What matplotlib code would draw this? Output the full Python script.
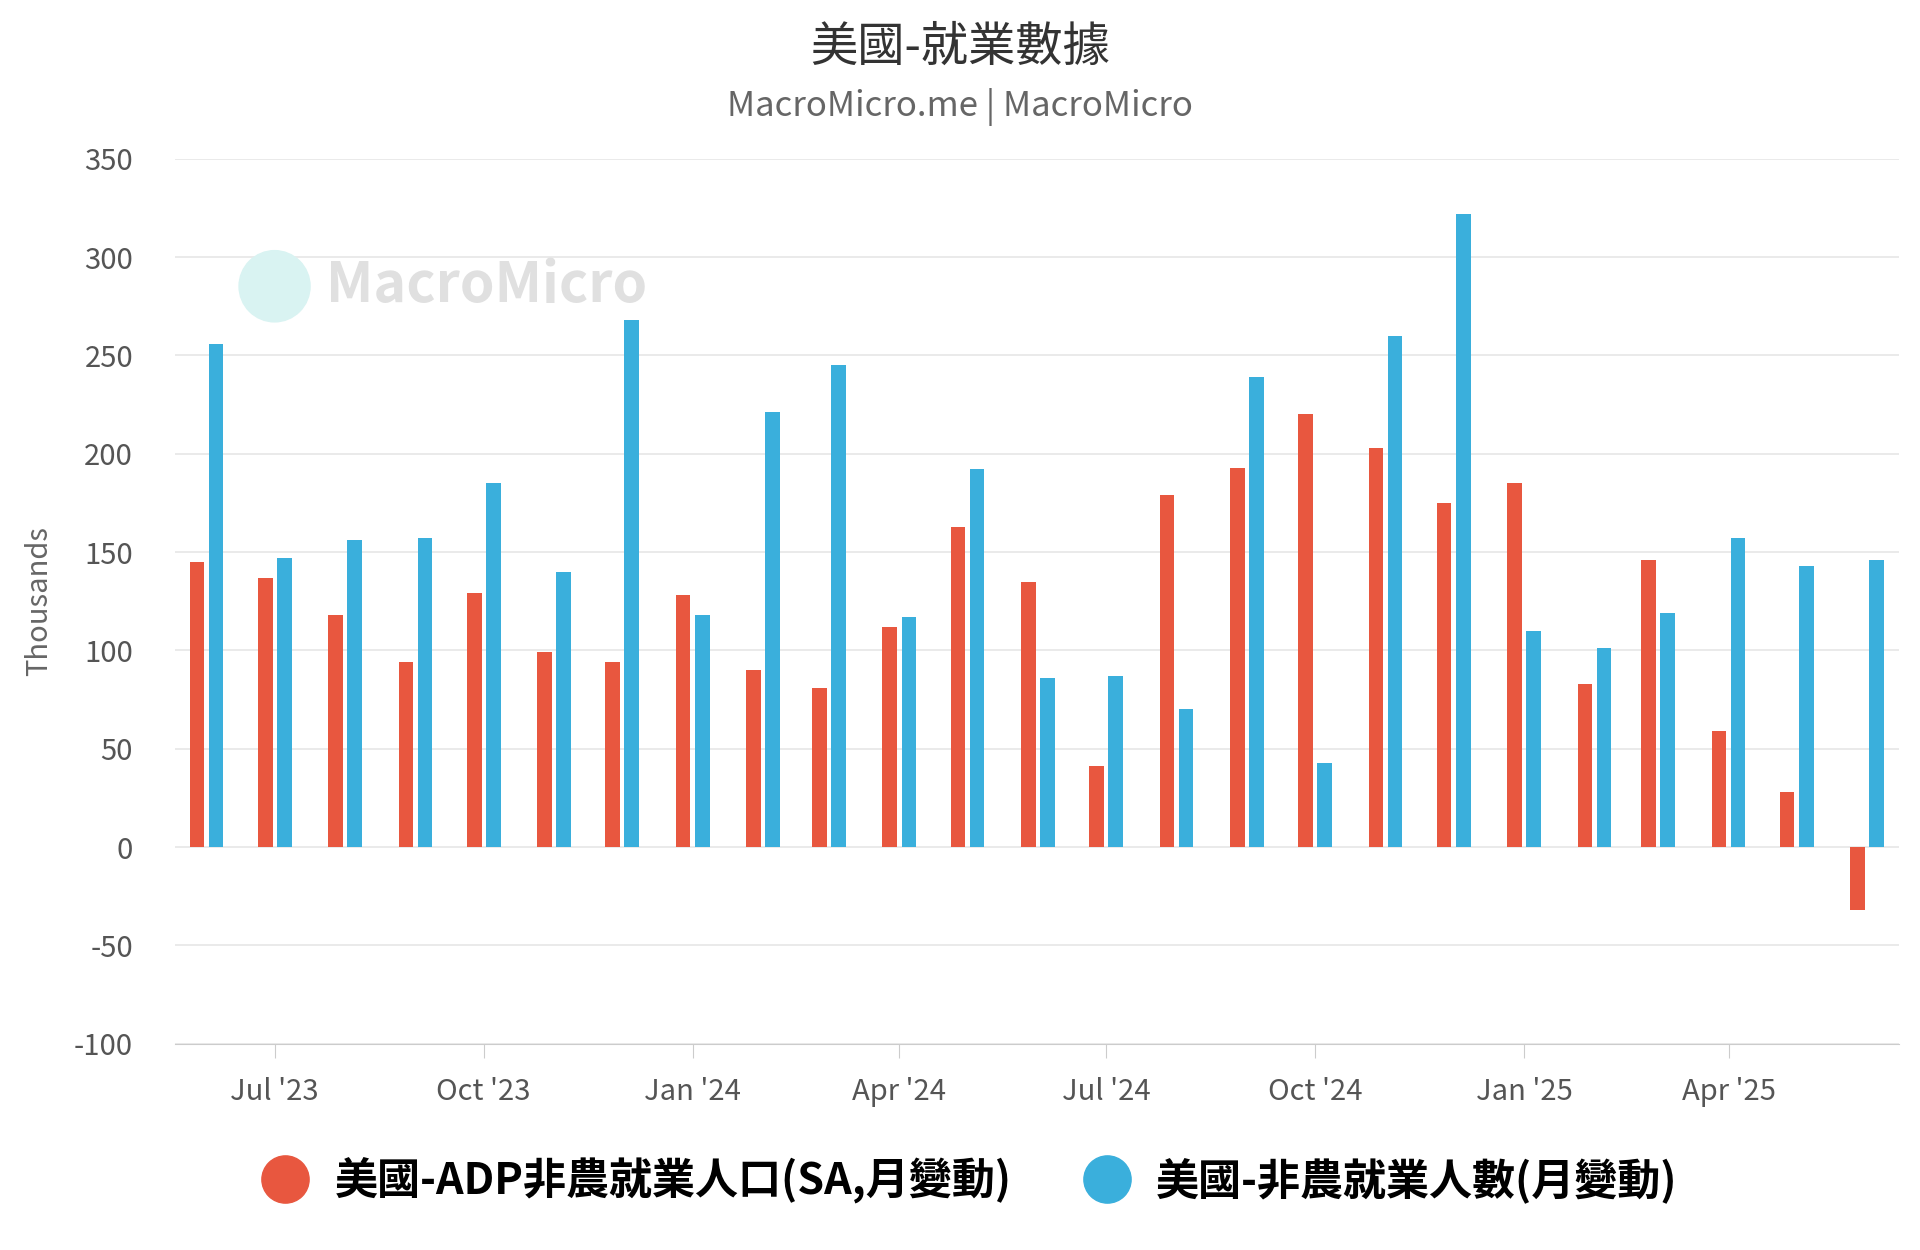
import matplotlib
matplotlib.use("Agg")
import matplotlib.pyplot as plt
import matplotlib.dates as mdates
from matplotlib import font_manager as fm
import datetime as dt
from matplotlib.lines import Line2D

cjk = None
for f in fm.findSystemFonts():
    if "CJK" in f or "cjk" in f.lower():
        try:
            fm.fontManager.addfont(f)
        except Exception:
            pass
names = sorted({f.name for f in fm.fontManager.ttflist})
for n in ["Noto Sans CJK TC", "Noto Sans CJK SC", "Noto Sans CJK JP", "Noto Sans CJK KR"]:
    if n in names:
        cjk = n; break
if cjk is None:
    cands = [n for n in names if "CJK" in n]
    cjk = cands[0] if cands else "DejaVu Sans"
plt.rcParams["font.family"] = [cjk, "DejaVu Sans"]
plt.rcParams["axes.unicode_minus"] = False

months = ["2023-06","2023-07","2023-08","2023-09","2023-10","2023-11","2023-12",
          "2024-01","2024-02","2024-03","2024-04","2024-05","2024-06","2024-07",
          "2024-08","2024-09","2024-10","2024-11","2024-12","2025-01","2025-02",
          "2025-03","2025-04","2025-05","2025-06"]
adp = [145,137,118,94,129,99,94,128,90,81,112,163,135,41,179,193,220,203,175,185,83,146,59,28,-32]
nfp = [256,147,156,157,185,140,268,118,221,245,117,192,86,87,70,239,43,260,322,110,101,119,157,143,146]
ticks = ["2023-07","2023-10","2024-01","2024-04","2024-07","2024-10","2025-01","2025-04"]
tick_labels = ["Jul '23","Oct '23","Jan '24","Apr '24","Jul '24","Oct '24","Jan '25","Apr '25"]

red = "#e8573f"; blue = "#3aafdc"
d = [dt.datetime.strptime(m, "%Y-%m") for m in months]
x = mdates.date2num(d)

fig = plt.figure(figsize=(19.2, 12.5), dpi=100)
ax = fig.add_axes([0.091, 0.165, 0.898, 0.708])
w = 6.5
ax.bar(x - 4.2, adp, width=w, color=red, zorder=3)
ax.bar(x + 4.2, nfp, width=w, color=blue, zorder=3)
ax.set_ylim(-100, 350)
ax.set_yticks(range(-100, 351, 50))
ax.set_xlim(x[0] - 14, x[-1] + 14)
tx = mdates.date2num([dt.datetime.strptime(t, "%Y-%m") for t in ticks])
ax.set_xticks(tx)
ax.set_xticklabels(tick_labels)
ax.grid(axis="y", color="#e6e6e6", lw=1.2, zorder=0)
for s in ["top", "right", "left"]:
    ax.spines[s].set_visible(False)
ax.spines["bottom"].set_color("#cccccc")
ax.tick_params(axis="y", length=0, labelsize=21, colors="#555555", pad=30)
ax.tick_params(axis="x", length=10, color="#cccccc", labelsize=21, colors="#555555", pad=14)
ax.set_ylabel("Thousands", fontsize=21, color="#666666", labelpad=14)

fig.text(0.5, 0.962, "美國-就業數據", ha="center", va="center", fontsize=34, color="#333333")
fig.text(0.5, 0.914, "MacroMicro.me | MacroMicro", ha="center", va="center", fontsize=25, color="#666666")
fig.text(0.17, 0.771, "MacroMicro", fontsize=40, color="#e0e0e0", fontweight="bold", va="center", zorder=1)
fig.patches.append(matplotlib.patches.Ellipse((0.143, 0.771), 0.037, 0.057, transform=fig.transFigure, color="#d9f3f2", zorder=0))

handles = [Line2D([], [], marker="o", ls="", color=red, markersize=34),
           Line2D([], [], marker="o", ls="", color=blue, markersize=34)]
fig.legend(handles, ["美國-ADP非農就業人口(SA,月變動)", "美國-非農就業人數(月變動)"],
           loc="center", bbox_to_anchor=(0.5, 0.056), ncol=2, frameon=False,
           prop={"size": 31, "weight": "bold"}, handletextpad=0.15, columnspacing=1.2)
fig.savefig("out.png")
